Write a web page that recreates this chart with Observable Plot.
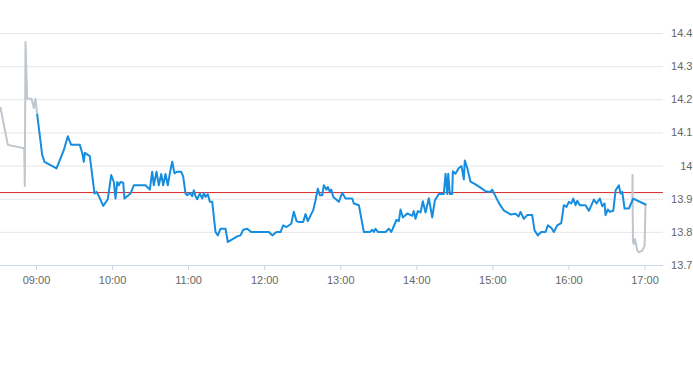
<!DOCTYPE html>
<html><head><meta charset="utf-8">
<script src="https://cdn.jsdelivr.net/npm/d3@7"></script>
<script src="https://cdn.jsdelivr.net/npm/@observablehq/plot@0.6"></script>
<style>body{margin:0;background:#fff;font-family:"Liberation Sans",Arial,sans-serif}</style>
</head><body><div id="chart"></div>
<script>
const day = "2024-01-02";
const grayStartTimes = ["08:31:36","08:37:22","08:50:18","08:50:46","08:51:19","08:52:40","08:56:04","08:57:52","08:59:13","09:00:33"];
const grayStartValues = [14.176,14.064,14.054,13.94,14.374,14.203,14.203,14.175,14.203,14.155];
const blueTimes = ["09:00:33","09:04:30","09:06:18","09:15:47","09:21:32","09:24:41","09:27:22","09:34:10","09:36:03","09:37:19","09:38:06","09:42:03","09:45:45","09:47:20","09:49:09","09:52:37","09:56:15","09:58:56","10:01:00","10:02:20","10:03:40","10:04:56","10:06:16","10:08:24","10:09:25","10:14:09","10:16:46","10:25:59","10:29:23","10:31:16","10:32:32","10:34:40","10:36:29","10:38:23","10:39:57","10:41:46","10:43:35","10:45:10","10:47:03","10:48:52","10:51:00","10:54:09","10:55:44","10:57:33","10:58:53","11:00:56","11:02:50","11:04:06","11:05:26","11:06:47","11:08:50","11:10:44","11:12:00","11:13:20","11:15:09","11:16:44","11:18:37","11:21:13","11:23:02","11:25:10","11:29:06","11:30:55","11:33:03","11:38:20","11:40:56","11:43:04","11:46:13","11:49:22","12:03:16","12:05:57","12:09:20","12:12:30","12:14:37","12:17:13","12:20:56","12:23:00","12:25:07","12:26:56","12:30:24","12:32:13","12:34:02","12:38:17","12:40:06","12:41:55","12:43:30","12:45:23","12:46:39","12:48:47","12:49:49","12:51:24","12:52:30","12:54:05","12:58:30","13:01:11","13:03:47","13:09:04","13:10:20","13:14:17","13:18:13","13:22:57","13:24:51","13:26:07","13:27:27","13:29:16","13:35:20","13:37:56","13:39:50","13:44:01","13:45:50","13:47:10","13:48:59","13:52:27","13:56:23","13:57:39","13:58:59","14:00:48","14:02:56","14:04:45","14:06:53","14:09:29","14:12:10","14:14:13","14:17:23","14:21:19","14:22:40","14:24:00","14:24:47","14:26:03","14:27:56","14:28:25","14:30:32","14:33:08","14:35:16","14:37:05","14:37:52","14:39:45","14:42:21","14:46:18","14:50:14","14:54:11","14:58:08","14:59:29","15:04:41","15:08:38","15:13:55","15:17:52","15:20:18","15:21:49","15:24:26","15:27:07","15:31:03","15:32:52","15:35:28","15:38:09","15:41:33","15:43:22","15:46:03","15:48:06","15:50:47","15:53:56","15:56:00","15:58:07","15:59:56","16:01:49","16:03:24","16:05:13","16:06:34","16:08:37","16:13:07","16:15:43","16:19:40","16:21:48","16:24:24","16:26:18","16:28:07","16:28:54","16:30:43","16:32:18","16:34:59","16:36:48","16:39:24","16:40:44","16:42:05","16:43:54","16:47:18","16:50:42","17:00:24"];
const blueValues = [14.155,14.033,14.013,13.993,14.048,14.09,14.064,14.064,14.04,14.013,14.04,14.03,13.917,13.922,13.91,13.88,13.9,13.973,13.952,13.902,13.952,13.942,13.952,13.95,13.902,13.917,13.942,13.942,13.929,13.983,13.942,13.983,13.942,13.976,13.942,13.976,13.942,13.978,14.013,13.978,13.983,13.983,13.968,13.917,13.912,13.919,13.909,13.927,13.909,13.9,13.917,13.902,13.919,13.907,13.915,13.892,13.892,13.801,13.791,13.811,13.811,13.771,13.776,13.788,13.791,13.808,13.811,13.801,13.801,13.791,13.801,13.801,13.821,13.816,13.826,13.862,13.834,13.831,13.831,13.855,13.834,13.867,13.897,13.932,13.912,13.912,13.942,13.929,13.937,13.922,13.929,13.907,13.892,13.919,13.902,13.902,13.887,13.882,13.801,13.801,13.808,13.801,13.811,13.801,13.801,13.811,13.801,13.838,13.834,13.869,13.845,13.857,13.85,13.864,13.841,13.864,13.86,13.894,13.86,13.903,13.845,13.896,13.916,13.916,13.977,13.916,13.977,13.916,13.916,13.984,13.977,13.994,14.0,13.96,14.017,13.995,13.953,13.945,13.935,13.924,13.922,13.929,13.889,13.866,13.854,13.856,13.848,13.862,13.841,13.852,13.852,13.806,13.791,13.801,13.801,13.821,13.814,13.801,13.821,13.828,13.882,13.877,13.892,13.887,13.902,13.882,13.895,13.882,13.882,13.865,13.899,13.887,13.902,13.879,13.887,13.852,13.869,13.862,13.865,13.927,13.942,13.917,13.922,13.872,13.872,13.902,13.884];
const grayEndTimes = ["16:50:00","16:50:10","16:50:30","16:51:17","16:52:05","16:53:57","16:55:12","16:57:53","16:59:42","17:00:24"];
const grayEndValues = [13.89,13.973,13.77,13.765,13.78,13.745,13.74,13.745,13.76,13.884];
const refPrice = 13.92;
const yTicks = [13.7,13.8,13.9,14.0,14.1,14.2,14.3,14.4];
const yGridTicks = [13.8,13.9,14.0,14.1,14.2,14.3,14.4];
const xTicks = ["09:00:00","10:00:00","11:00:00","12:00:00","13:00:00","14:00:00","15:00:00","16:00:00","17:00:00"];
const xDomain = ["08:31:36","17:14:36"];

const toDate = t => new Date(`${day}T${t}Z`);
const mk = (ts, vs) => ts.map((t, i) => ({t: toDate(t), v: vs[i]}));
const grayStart = mk(grayStartTimes, grayStartValues);
const grayEnd = mk(grayEndTimes, grayEndValues);
const blue = mk(blueTimes, blueValues);
const gray = "#bec7cf", blueC = "#168ddf";

const chart = Plot.plot({
  width: 693, height: 300,
  marginLeft: 0, marginRight: 30, marginTop: 33, marginBottom: 35,
  style: {fontFamily: "'Liberation Sans', Arial, sans-serif", fontSize: "11px", color: "#666666", background: "#fff"},
  x: {type: "utc", domain: xDomain.map(toDate)},
  y: {domain: [13.7, 14.4]},
  marks: [
    Plot.gridY(yGridTicks, {stroke: "#e6e6e6", strokeOpacity: 1}),
    Plot.ruleY([13.7], {stroke: "#ccd6eb"}),
    Plot.axisX(xTicks.map(toDate), {tickSize: 5, tickPadding: 6, stroke: "#ccd6eb", fill: "#666666", tickFormat: d3.utcFormat("%H:%M"), label: null}),
    Plot.axisY(yTicks, {anchor: "right", tickSize: 0, tickPadding: 0, textAnchor: "end", dx: 29, fill: "#666666", tickFormat: d3.format(".1~f"), label: null}),
    Plot.ruleY([refPrice], {stroke: "#d8262b", strokeWidth: 1}),
    Plot.line(grayStart, {x: "t", y: "v", stroke: gray, strokeWidth: 2}),
    Plot.line(grayEnd, {x: "t", y: "v", stroke: gray, strokeWidth: 2}),
    Plot.line(blue, {x: "t", y: "v", stroke: blueC, strokeWidth: 2})
  ]
});
document.getElementById("chart").append(chart);
</script></body></html>
